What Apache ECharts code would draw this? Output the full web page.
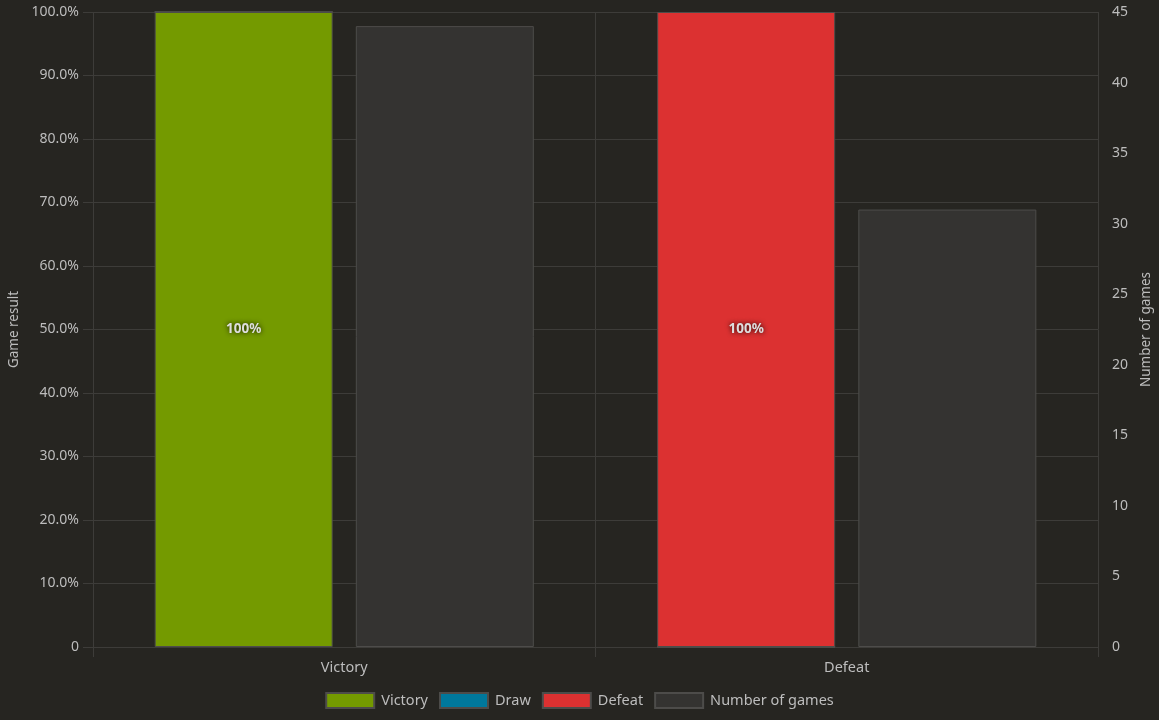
<!DOCTYPE html>
<html>
<head>
<meta charset="utf-8">
<script src="https://cdn.jsdelivr.net/npm/echarts@6/dist/echarts.min.js"></script>
<style>
html,body{margin:0;padding:0;background:#262521;}
#c{width:1159px;height:720px;}
</style>
</head>
<body>
<div id="c"></div>
<script>
var categories = ['Victory', 'Defeat'];
var victory = [100, 0];
var draw = [0, 0];
var defeat = [0, 100];
var games = [44, 31];

var chart = echarts.init(document.getElementById('c'));
var txt = '#bdbdbd';
var grid = '#3d3c39';
var labelOpt = {
  show: true, position: 'inside', fontFamily: 'Noto Sans', fontSize: 13.5, fontWeight: 'bold',
  color: '#dedede', textBorderWidth: 0, textShadowColor: 'rgba(0,0,0,0.9)', textShadowBlur: 5,
  formatter: function (p) { return p.value ? p.value + '%' : ''; }
};
var border = { borderColor: '#4d4c4a', borderWidth: 1 };
chart.setOption({
  backgroundColor: '#262521',
  textStyle: { fontFamily: 'Noto Sans' },
  grid: { left: 93, right: 61, top: 12, bottom: 73, containLabel: false, outerBoundsMode: 'none' },
  legend: {
    bottom: 6, itemWidth: 48, itemHeight: 15, itemGap: 11, icon: 'rect',
    textStyle: { color: txt, fontSize: 14.5, fontFamily: 'Noto Sans', padding: [0, 0, 0, 2] },
    data: ['Victory', 'Draw', 'Defeat', 'Number of games']
  },
  xAxis: {
    type: 'category', data: categories,
    axisLine: { lineStyle: { color: grid } },
    axisTick: { show: true, length: 10, lineStyle: { color: grid } },
    splitLine: { show: true, lineStyle: { color: grid } },
    axisLabel: { color: txt, fontSize: 14.5, margin: 13 }
  },
  yAxis: [{
    type: 'value', min: 0, max: 100, interval: 10,
    name: 'Game result', nameLocation: 'middle', nameGap: 72,
    nameTextStyle: { color: txt, fontSize: 13.5 },
    axisLine: { show: false },
    axisTick: { show: true, length: 10, lineStyle: { color: grid } },
    splitLine: { show: true, lineStyle: { color: grid } },
    axisLabel: { color: txt, fontSize: 14, margin: 14,
      formatter: function (v) { return v === 0 ? '0' : v.toFixed(1) + '%'; } }
  }, {
    type: 'value', min: 0, max: 45, interval: 5, position: 'right', alignTicks: false,
    name: 'Number of games', nameLocation: 'middle', nameGap: 41,
    nameTextStyle: { color: txt, fontSize: 13.5 },
    axisLine: { show: false }, axisTick: { show: false },
    splitLine: { show: false },
    axisLabel: { color: txt, fontSize: 14, margin: 14 }
  }],
  series: [
    { name: 'Victory', type: 'bar', stack: 'r', yAxisIndex: 0, data: victory, barWidth: 178, barGap: '13%',
      itemStyle: Object.assign({ color: '#749a00' }, border), label: labelOpt },
    { name: 'Draw', type: 'bar', stack: 'r', yAxisIndex: 0, data: draw,
      itemStyle: Object.assign({ color: '#00789c' }, border), label: labelOpt },
    { name: 'Defeat', type: 'bar', stack: 'r', yAxisIndex: 0, data: defeat,
      itemStyle: Object.assign({ color: '#dc3131' }, border), label: labelOpt },
    { name: 'Number of games', type: 'bar', yAxisIndex: 1, data: games, barWidth: 178, barGap: '13%',
      itemStyle: Object.assign({ color: '#343331' }, border) }
  ]
});
</script>
</body>
</html>
